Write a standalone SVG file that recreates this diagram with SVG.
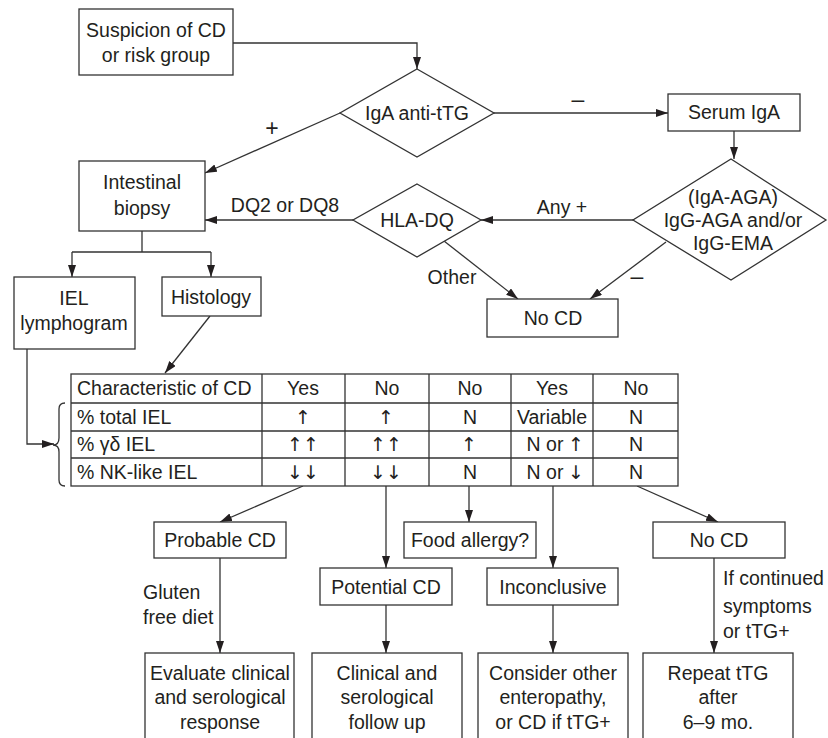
<svg xmlns="http://www.w3.org/2000/svg" width="828" height="738" viewBox="0 0 828 738">
<defs>
<marker id="ah" markerUnits="userSpaceOnUse" markerWidth="13" markerHeight="9" refX="12" refY="4" orient="auto">
<path d="M0,0 L12,4 L0,8 z" fill="#231f20"/>
</marker>
<style>
.box{fill:#fff;stroke:#333;stroke-width:1.3}
.ln{fill:none;stroke:#333;stroke-width:1.3}
.arr{fill:none;stroke:#333;stroke-width:1.3;marker-end:url(#ah)}
text{font-family:"Liberation Sans",Arial,sans-serif;font-size:19.5px;fill:#231f20}
.c{text-anchor:middle}
.pm{font-size:23px;text-anchor:middle}
.sym{font-family:"DejaVu Sans",sans-serif;font-size:19px;text-anchor:middle}
</style>
</defs>
<rect width="828" height="738" fill="#fff"/>

<g id="connectors">
<path class="arr" d="M233,43 H417 V69"/>
<path class="arr" d="M340,113 L205,173"/>
<path class="arr" d="M494,113 H668"/>
<path class="arr" d="M734,131 V159"/>
<path class="arr" d="M633,220 H481"/>
<path class="arr" d="M353,220 H205"/>
<path class="arr" d="M444,241 L518,299"/>
<path class="arr" d="M666,242 L590,299"/>
<path class="ln" d="M142,231 V252 M72,252 H211"/>
<path class="arr" d="M72,252 V277"/>
<path class="arr" d="M211,252 V277"/>
<path class="arr" d="M210,316 L165,373"/>
<path class="arr" d="M27,349 V444 H54"/>
<path class="arr" d="M303,486 L220,522"/>
<path class="arr" d="M386,486 V568"/>
<path class="arr" d="M469,486 V522"/>
<path class="arr" d="M553,486 V568"/>
<path class="arr" d="M637,486 L718,522"/>
<path class="arr" d="M220,558 V653"/>
<path class="arr" d="M386,605 V653"/>
<path class="arr" d="M553,605 V653"/>
<path class="arr" d="M714,558 V653"/>
<text x="272" y="136" class="pm">+</text>
<text x="578" y="107" class="pm">–</text>
<text x="562" y="214" class="c">Any +</text>
<text x="285" y="212" class="c">DQ2 or DQ8</text>
<text x="452" y="284" class="c">Other</text>
<text x="637" y="284" class="pm">–</text>
<text x="143" y="599">Gluten</text>
<text x="143" y="624">free diet</text>
<text x="723" y="585">If continued</text>
<text x="723" y="613">symptoms</text>
<text x="723" y="638">or tTG+</text>
</g>

<g id="suspicion">
<rect class="box" x="79" y="9" width="154" height="66"/>
<text x="156" y="37" class="c">Suspicion of CD</text>
<text x="156" y="62" class="c">or risk group</text>
</g>
<g id="iga-anti-ttg">
<polygon class="box" points="417,69 494,113 417,157 340,113"/>
<text x="417" y="120" class="c">IgA anti-tTG</text>
</g>
<g id="serum-iga">
<rect class="box" x="668" y="94" width="132" height="37"/>
<text x="734" y="119" class="c">Serum IgA</text>
</g>
<g id="aga-ema">
<polygon class="box" points="731,159 826,220 731,280 633,220"/>
<text x="733" y="204" class="c">(IgA-AGA)</text>
<text x="733" y="227" class="c">IgG-AGA and/or</text>
<text x="733" y="250" class="c">IgG-EMA</text>
</g>
<g id="hla-dq">
<polygon class="box" points="417,184 481,220 417,257 353,220"/>
<text x="417" y="227" class="c">HLA-DQ</text>
</g>
<g id="intestinal-biopsy">
<rect class="box" x="79" y="161" width="126" height="70"/>
<text x="142" y="189" class="c">Intestinal</text>
<text x="142" y="215" class="c">biopsy</text>
</g>
<g id="no-cd-top">
<rect class="box" x="487" y="299" width="131" height="38"/>
<text x="553" y="325" class="c">No CD</text>
</g>
<g id="iel-lymphogram">
<rect class="box" x="14" y="277" width="121" height="72"/>
<text x="74" y="305" class="c">IEL</text>
<text x="74" y="330" class="c">lymphogram</text>
</g>
<g id="histology">
<rect class="box" x="162" y="277" width="99" height="39"/>
<text x="211" y="304" class="c">Histology</text>
</g>

<g id="table">
<rect class="box" x="71" y="374" width="607" height="112"/>
<path class="ln" d="M71,403 H678 M71,431 H678 M71,458 H678 M262,374 V486 M345,374 V486 M429,374 V486 M511,374 V486 M593,374 V486"/>
<path class="ln" d="M65,403 Q59,403 59,409 V438 Q59,445 53,445 Q59,445 59,452 V480 Q59,486 65,486"/>
<text x="77" y="395">Characteristic of CD</text>
<text x="303" y="395" class="c">Yes</text>
<text x="387" y="395" class="c">No</text>
<text x="470" y="395" class="c">No</text>
<text x="552" y="395" class="c">Yes</text>
<text x="636" y="395" class="c">No</text>
<text x="77" y="424">% total IEL</text>
<text x="303" y="424" class="sym">↑</text>
<text x="386" y="424" class="sym">↑</text>
<text x="470" y="424" class="c">N</text>
<text x="552" y="424" class="c">Variable</text>
<text x="636" y="424" class="c">N</text>
<text x="77" y="451">% γδ IEL</text>
<text x="303" y="451" class="sym">↑↑</text>
<text x="386" y="451" class="sym">↑↑</text>
<text x="469" y="451" class="sym">↑</text>
<text x="545" y="451" class="c">N or</text>
<text x="576" y="451" class="sym">↑</text>
<text x="636" y="451" class="c">N</text>
<text x="77" y="479">% NK-like IEL</text>
<text x="303" y="479" class="sym">↓↓</text>
<text x="386" y="479" class="sym">↓↓</text>
<text x="470" y="479" class="c">N</text>
<text x="545" y="479" class="c">N or</text>
<text x="576" y="479" class="sym">↓</text>
<text x="636" y="479" class="c">N</text>
</g>

<g id="probable-cd">
<rect class="box" x="154" y="522" width="132" height="36"/>
<text x="220" y="547" class="c">Probable CD</text>
</g>
<g id="food-allergy">
<rect class="box" x="404" y="522" width="132" height="36"/>
<text x="470" y="547" class="c">Food allergy?</text>
</g>
<g id="no-cd-bottom">
<rect class="box" x="653" y="522" width="132" height="36"/>
<text x="719" y="547" class="c">No CD</text>
</g>
<g id="potential-cd">
<rect class="box" x="320" y="568" width="132" height="37"/>
<text x="386" y="594" class="c">Potential CD</text>
</g>
<g id="inconclusive">
<rect class="box" x="487" y="568" width="131" height="37"/>
<text x="553" y="594" class="c">Inconclusive</text>
</g>
<g id="evaluate">
<rect class="box" x="145" y="653" width="149" height="100"/>
<text x="220" y="680" class="c">Evaluate clinical</text>
<text x="220" y="704" class="c">and serological</text>
<text x="220" y="729" class="c">response</text>
</g>
<g id="follow-up">
<rect class="box" x="312" y="653" width="150" height="100"/>
<text x="387" y="680" class="c">Clinical and</text>
<text x="387" y="704" class="c">serological</text>
<text x="387" y="729" class="c">follow up</text>
</g>
<g id="consider-other">
<rect class="box" x="478" y="653" width="150" height="100"/>
<text x="553" y="680" class="c">Consider other</text>
<text x="553" y="704" class="c">enteropathy,</text>
<text x="553" y="729" class="c">or CD if tTG+</text>
</g>
<g id="repeat-ttg">
<rect class="box" x="643" y="653" width="150" height="100"/>
<text x="718" y="680" class="c">Repeat tTG</text>
<text x="718" y="704" class="c">after</text>
<text x="718" y="729" class="c">6–9 mo.</text>
</g>
</svg>
